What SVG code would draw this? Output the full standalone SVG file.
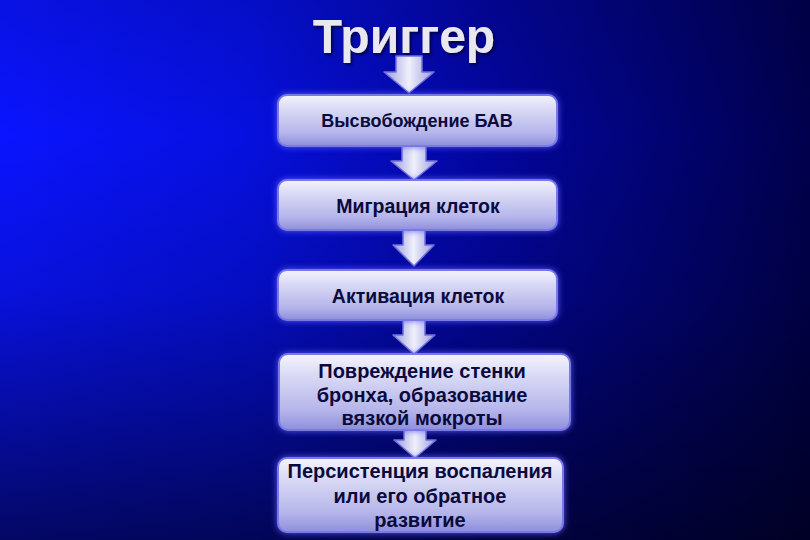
<svg xmlns="http://www.w3.org/2000/svg" width="810" height="540" viewBox="0 0 810 540">
<defs>
<linearGradient id="bgh" x1="0" y1="0" x2="1" y2="0">
<stop offset="0" stop-color="#0a14ff"/>
<stop offset="0.3" stop-color="#0610e0"/>
<stop offset="0.6" stop-color="#0306a0"/>
<stop offset="1" stop-color="#00004c"/>
</linearGradient>
<linearGradient id="bgv" x1="0" y1="0" x2="0" y2="1">
<stop offset="0" stop-color="#000010" stop-opacity="0.12"/>
<stop offset="0.25" stop-color="#000010" stop-opacity="0"/>
<stop offset="0.55" stop-color="#000010" stop-opacity="0.15"/>
<stop offset="1" stop-color="#000010" stop-opacity="0.65"/>
</linearGradient>
<linearGradient id="box" x1="0" y1="0" x2="0" y2="1">
<stop offset="0" stop-color="#f4f4fc"/>
<stop offset="0.25" stop-color="#dcdcf6"/>
<stop offset="0.75" stop-color="#b4b4ea"/>
<stop offset="1" stop-color="#8e8edc"/>
</linearGradient>
<linearGradient id="arr" x1="0" y1="0" x2="1" y2="0">
<stop offset="0" stop-color="#9a9ae0"/>
<stop offset="0.5" stop-color="#f0f0fc"/>
<stop offset="1" stop-color="#9a9ae0"/>
</linearGradient>
<filter id="glow" x="-10%" y="-20%" width="120%" height="140%">
<feGaussianBlur in="SourceAlpha" stdDeviation="3" result="b"/>
<feFlood flood-color="#6060ff" flood-opacity="0.9"/>
<feComposite in2="b" operator="in" result="g"/>
<feMerge><feMergeNode in="g"/><feMergeNode in="SourceGraphic"/></feMerge>
</filter>
<filter id="tshadow" x="-10%" y="-20%" width="120%" height="140%">
<feGaussianBlur in="SourceAlpha" stdDeviation="1.5" result="b"/>
<feOffset in="b" dx="2" dy="2" result="o"/>
<feFlood flood-color="#000030" flood-opacity="0.8"/>
<feComposite in2="o" operator="in" result="s"/>
<feMerge><feMergeNode in="s"/><feMergeNode in="SourceGraphic"/></feMerge>
</filter>
</defs>
<style>
.box{fill:url(#box);stroke:#7878e8;stroke-width:2;filter:url(#glow)}
.lbl{font-family:"Liberation Sans",Arial,sans-serif;font-weight:bold;font-size:19.5px;fill:#0a0a3c;text-anchor:middle}
.arrow{fill:url(#arr);stroke:#7070d8;stroke-width:1.5;stroke-linejoin:round}
.title{font-family:"Liberation Sans",Arial,sans-serif;font-weight:bold;font-size:48px;fill:#e8e8ee;text-anchor:middle;filter:url(#tshadow)}
</style>
<rect width="810" height="540" fill="url(#bgh)"/>
<rect width="810" height="540" fill="url(#bgv)"/>
<text class="title" x="404" y="53">Триггер</text>
<g id="connectors">
<path class="arrow" d="M396,56 H422 V72 H434 L409,93 L384,72 H396 Z"/>
<path class="arrow" d="M402,146 H426 V161 H437 L414,180 L391,161 H402 Z"/>
<path class="arrow" d="M403,230 H425 V245 H434 L414,266 L393,245 H403 Z"/>
<path class="arrow" d="M403,320 H425 V335 H435 L414,354 L393,335 H403 Z"/>
<path class="arrow" d="M404,430 H426 V440 H436 L415,458 L394,440 H404 Z"/>
</g>
<g id="n1">
<rect class="box" x="278" y="95" width="279" height="51" rx="9"/>
<text class="lbl" x="417" y="127" style="font-size:18px">Высвобождение БАВ</text>
</g>
<g id="n2">
<rect class="box" x="278" y="180" width="279" height="50" rx="9"/>
<text class="lbl" x="418" y="213">Миграция клеток</text>
</g>
<g id="n3">
<rect class="box" x="278" y="270" width="279" height="50" rx="9"/>
<text class="lbl" x="418" y="303">Активация клеток</text>
</g>
<g id="n4">
<rect class="box" x="279" y="354" width="291" height="76" rx="9"/>
<text class="lbl" x="422" y="378" style="font-size:20px">Повреждение стенки</text>
<text class="lbl" x="422" y="402" style="font-size:20px">бронха, образование</text>
<text class="lbl" x="422" y="425" style="font-size:20px">вязкой мокроты</text>
</g>
<g id="n5">
<rect class="box" x="278" y="458" width="285" height="74" rx="9"/>
<text class="lbl" x="420" y="478" style="font-size:20px">Персистенция воспаления</text>
<text class="lbl" x="420" y="503" style="font-size:20px">или его обратное</text>
<text class="lbl" x="420" y="527" style="font-size:20px">развитие</text>
</g>
</svg>
